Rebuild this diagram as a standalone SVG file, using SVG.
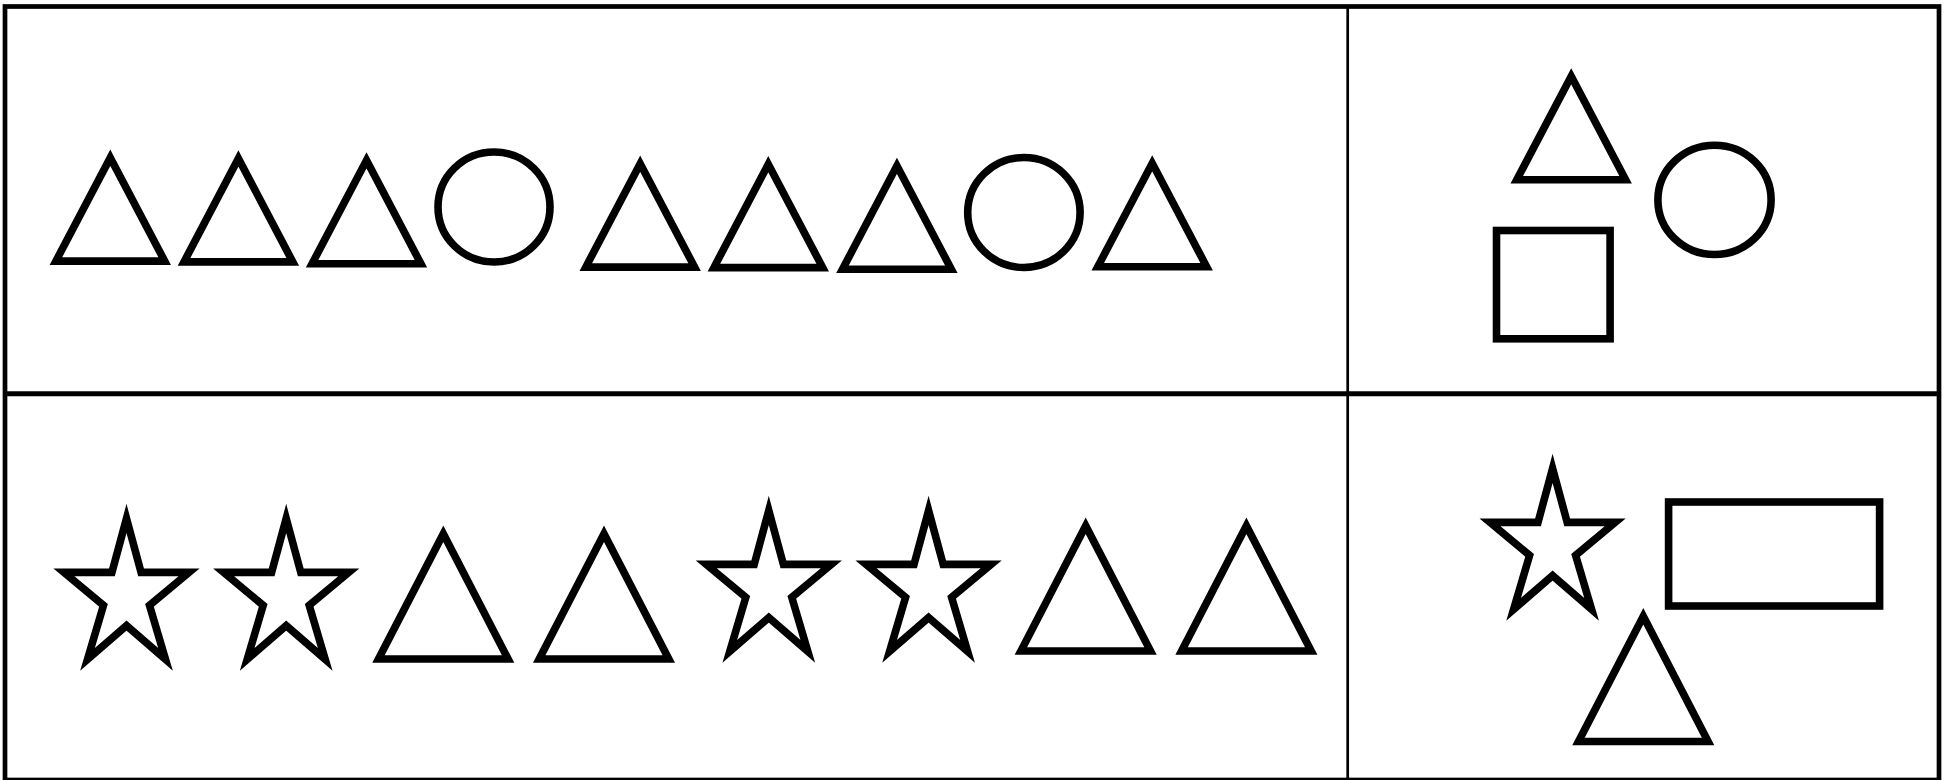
<svg xmlns="http://www.w3.org/2000/svg" xmlns:xlink="http://www.w3.org/1999/xlink" width="1950" height="780" viewBox="0 0 1950 780">
<style>
.s{fill:none;stroke:#000;stroke-width:7.6;stroke-linejoin:miter;stroke-miterlimit:10}
.frame{fill:none;stroke:#000;stroke-width:4.7}
.grid{stroke:#000;fill:none}
</style>
<defs>
<path id="star" d="M0,0 L14.6,54 L62.6,54 L23,87 L39,141 L0,107.2 L-39,141 L-23,87 L-62.6,54 L-14.6,54 Z"/>
</defs>
<rect width="1950" height="780" fill="#fff"/>
<g id="frame">
<rect class="frame" x="5" y="6.5" width="1934" height="773.5"/>
<line class="grid" x1="5" y1="393.8" x2="1939" y2="393.8" stroke-width="5"/>
<line class="grid" x1="1347.7" y1="6.5" x2="1347.7" y2="780" stroke-width="2.7"/>
</g>
<g id="top-left">
<polygon id="t1" class="s" points="110.3,157.7 164.7,261.1 55.9,261.1"/>
<polygon id="t2" class="s" points="238.4,158.5 292.8,261.9 184,261.9"/>
<polygon id="t3" class="s" points="366.5,160.3 420.9,263.7 312.1,263.7"/>
<ellipse id="c1" class="s" cx="494" cy="207" rx="56" ry="55"/>
<polygon id="t4" class="s" points="640.2,163.7 694.6,267.1 585.8,267.1"/>
<polygon id="t5" class="s" points="768.3,164.2 822.7,267.6 713.9,267.6"/>
<polygon id="t6" class="s" points="896.9,165.8 951.3,269.2 842.5,269.2"/>
<ellipse id="c2" class="s" cx="1023.9" cy="212.5" rx="56.2" ry="55"/>
<polygon id="t7" class="s" points="1152.2,163.3 1206.6,266.7 1097.8,266.7"/>
</g>
<g id="top-right">
<polygon id="t8" class="s" points="1571.2,76.3 1625.6,179.7 1516.8,179.7"/>
<ellipse id="c3" class="s" cx="1714.5" cy="199.9" rx="56.6" ry="54.6"/>
<rect id="sq1" class="s" x="1496.5" y="230.5" width="113.6" height="108.3"/>
</g>
<g id="bottom-left">
<use id="st1" class="s" xlink:href="#star" href="#star" transform="translate(126.5,518.4)"/>
<use id="st2" class="s" xlink:href="#star" href="#star" transform="translate(286.2,518.4)"/>
<polygon id="ta" class="s" points="443.3,533.8 508.1,659 378.5,659"/>
<polygon id="tb" class="s" points="604,533.8 668.8,659 539.2,659"/>
<use id="st3" class="s" xlink:href="#star" href="#star" transform="translate(768.8,510.4)"/>
<use id="st4" class="s" xlink:href="#star" href="#star" transform="translate(928.6,510.4)"/>
<polygon id="tc" class="s" points="1085.7,525.8 1150.5,651 1020.9,651"/>
<polygon id="td" class="s" points="1246.4,525.8 1311.2,651 1181.6,651"/>
</g>
<g id="bottom-right">
<use id="st5" class="s" xlink:href="#star" href="#star" transform="translate(1552.6,468.4)"/>
<rect id="rc1" class="s" x="1668.6" y="502" width="211" height="104"/>
<polygon id="te" class="s" points="1643.3,616.3 1708.1,741.5 1578.5,741.5"/>
</g>
</svg>
